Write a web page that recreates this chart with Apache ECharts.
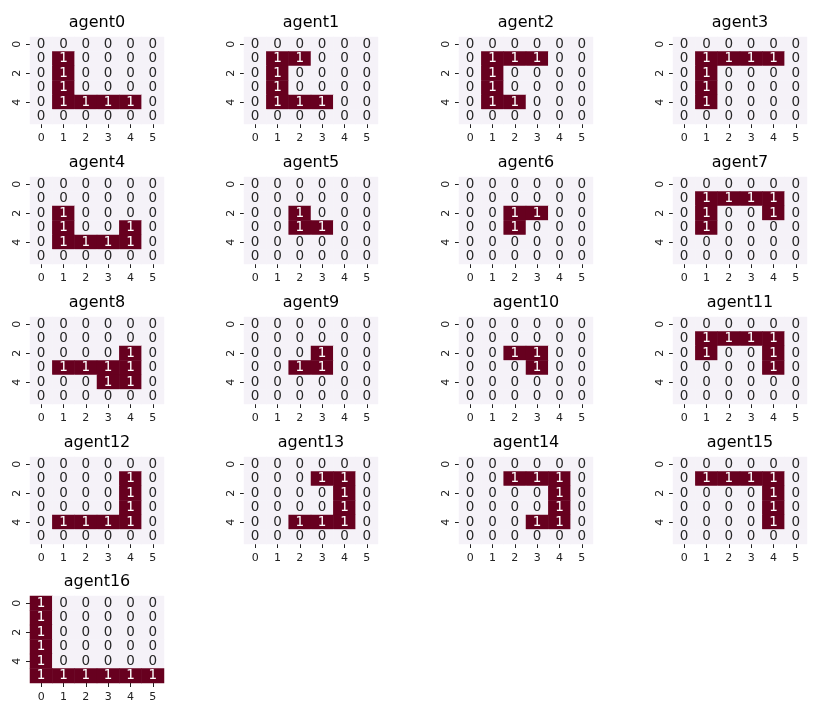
<!DOCTYPE html>
<html>
<head>
<meta charset="utf-8">
<script src="https://cdn.jsdelivr.net/npm/echarts@6/dist/echarts.min.js"></script>
<style>
html,body{margin:0;padding:0;background:#fff;}
#chart{width:828px;height:715px;}
</style>
</head>
<body>
<div id="chart"></div>
<script>
const xTicks = ['0','1','2','3','4','5'];
const yTicks = ['0','1','2','3','4','5'];
const titles = ['agent0','agent1','agent2','agent3','agent4','agent5','agent6','agent7','agent8','agent9','agent10','agent11','agent12','agent13','agent14','agent15','agent16'];

const agent0 = [[0,0,0,0,0,0],[0,1,0,0,0,0],[0,1,0,0,0,0],[0,1,0,0,0,0],[0,1,1,1,1,0],[0,0,0,0,0,0]];
const agent1 = [[0,0,0,0,0,0],[0,1,1,0,0,0],[0,1,0,0,0,0],[0,1,0,0,0,0],[0,1,1,1,0,0],[0,0,0,0,0,0]];
const agent2 = [[0,0,0,0,0,0],[0,1,1,1,0,0],[0,1,0,0,0,0],[0,1,0,0,0,0],[0,1,1,0,0,0],[0,0,0,0,0,0]];
const agent3 = [[0,0,0,0,0,0],[0,1,1,1,1,0],[0,1,0,0,0,0],[0,1,0,0,0,0],[0,1,0,0,0,0],[0,0,0,0,0,0]];
const agent4 = [[0,0,0,0,0,0],[0,0,0,0,0,0],[0,1,0,0,0,0],[0,1,0,0,1,0],[0,1,1,1,1,0],[0,0,0,0,0,0]];
const agent5 = [[0,0,0,0,0,0],[0,0,0,0,0,0],[0,0,1,0,0,0],[0,0,1,1,0,0],[0,0,0,0,0,0],[0,0,0,0,0,0]];
const agent6 = [[0,0,0,0,0,0],[0,0,0,0,0,0],[0,0,1,1,0,0],[0,0,1,0,0,0],[0,0,0,0,0,0],[0,0,0,0,0,0]];
const agent7 = [[0,0,0,0,0,0],[0,1,1,1,1,0],[0,1,0,0,1,0],[0,1,0,0,0,0],[0,0,0,0,0,0],[0,0,0,0,0,0]];
const agent8 = [[0,0,0,0,0,0],[0,0,0,0,0,0],[0,0,0,0,1,0],[0,1,1,1,1,0],[0,0,0,1,1,0],[0,0,0,0,0,0]];
const agent9 = [[0,0,0,0,0,0],[0,0,0,0,0,0],[0,0,0,1,0,0],[0,0,1,1,0,0],[0,0,0,0,0,0],[0,0,0,0,0,0]];
const agent10 = [[0,0,0,0,0,0],[0,0,0,0,0,0],[0,0,1,1,0,0],[0,0,0,1,0,0],[0,0,0,0,0,0],[0,0,0,0,0,0]];
const agent11 = [[0,0,0,0,0,0],[0,1,1,1,1,0],[0,1,0,0,1,0],[0,0,0,0,1,0],[0,0,0,0,0,0],[0,0,0,0,0,0]];
const agent12 = [[0,0,0,0,0,0],[0,0,0,0,1,0],[0,0,0,0,1,0],[0,0,0,0,1,0],[0,1,1,1,1,0],[0,0,0,0,0,0]];
const agent13 = [[0,0,0,0,0,0],[0,0,0,1,1,0],[0,0,0,0,1,0],[0,0,0,0,1,0],[0,0,1,1,1,0],[0,0,0,0,0,0]];
const agent14 = [[0,0,0,0,0,0],[0,0,1,1,1,0],[0,0,0,0,1,0],[0,0,0,0,1,0],[0,0,0,1,1,0],[0,0,0,0,0,0]];
const agent15 = [[0,0,0,0,0,0],[0,1,1,1,1,0],[0,0,0,0,1,0],[0,0,0,0,1,0],[0,0,0,0,1,0],[0,0,0,0,0,0]];
const agent16 = [[1,0,0,0,0,0],[1,0,0,0,0,0],[1,0,0,0,0,0],[1,0,0,0,0,0],[1,0,0,0,0,0],[1,1,1,1,1,1]];

const matrices = [agent0,agent1,agent2,agent3,agent4,agent5,agent6,agent7,agent8,agent9,agent10,agent11,agent12,agent13,agent14,agent15,agent16];

const colLefts = [30, 244, 459, 673];
const rowTops = [37, 177, 317, 457, 596];
const gw = 134, gh = 87;
const FONT = 'DejaVu Sans';

const grid = [], xAxis = [], yAxis = [], series = [], title = [];
matrices.forEach((m, i) => {
  const c = i % 4, r = Math.floor(i / 4);
  const left = colLefts[c], top = rowTops[r];
  grid.push({left: left, top: top, width: gw, height: gh});
  xAxis.push({
    type: 'category', gridIndex: i, data: xTicks, position: 'bottom',
    axisLine: {show: false},
    axisTick: {show: true, alignWithLabel: true, length: 4, lineStyle: {color: '#222', width: 1}},
    axisLabel: {fontFamily: FONT, fontSize: 11, color: '#222', margin: 9},
    splitLine: {show: false}
  });
  yAxis.push({
    type: 'category', gridIndex: i, data: yTicks, inverse: true,
    axisLine: {show: false},
    axisTick: {show: true, alignWithLabel: true, interval: 1, length: 4, lineStyle: {color: '#222', width: 1}},
    axisLabel: {fontFamily: FONT, fontSize: 11, color: '#222', interval: 1, rotate: 90, margin: 7},
    splitLine: {show: false}
  });
  const data = [];
  m.forEach((row, y) => row.forEach((v, x) => data.push([x, y, v])));
  series.push({
    type: 'heatmap', xAxisIndex: i, yAxisIndex: i, data: data,
    label: {
      show: true,
      formatter: p => p.value[2] ? '{w|' + p.value[2] + '}' : '{d|' + p.value[2] + '}',
      rich: {
        w: {color: '#ffffff', fontFamily: FONT, fontSize: 13.5},
        d: {color: '#262626', fontFamily: FONT, fontSize: 13.5}
      }
    },
    itemStyle: {borderWidth: 0},
    emphasis: {disabled: true}
  });
  title.push({
    text: titles[i], left: left + gw / 2, top: top - 22, textAlign: 'center', padding: 0,
    textStyle: {fontFamily: FONT, fontSize: 16, fontWeight: 'normal', color: '#000'}
  });
});

const chart = echarts.init(document.getElementById('chart'), null, {renderer: 'canvas'});
chart.setOption({
  backgroundColor: '#ffffff',
  animation: false,
  title: title,
  grid: grid,
  xAxis: xAxis,
  yAxis: yAxis,
  visualMap: {
    type: 'piecewise', show: false, dimension: 2,
    seriesIndex: series.map((s, i) => i),
    pieces: [{value: 0, color: '#f5f2f8'}, {value: 1, color: '#67001f'}]
  },
  series: series
});
</script>
</body>
</html>
